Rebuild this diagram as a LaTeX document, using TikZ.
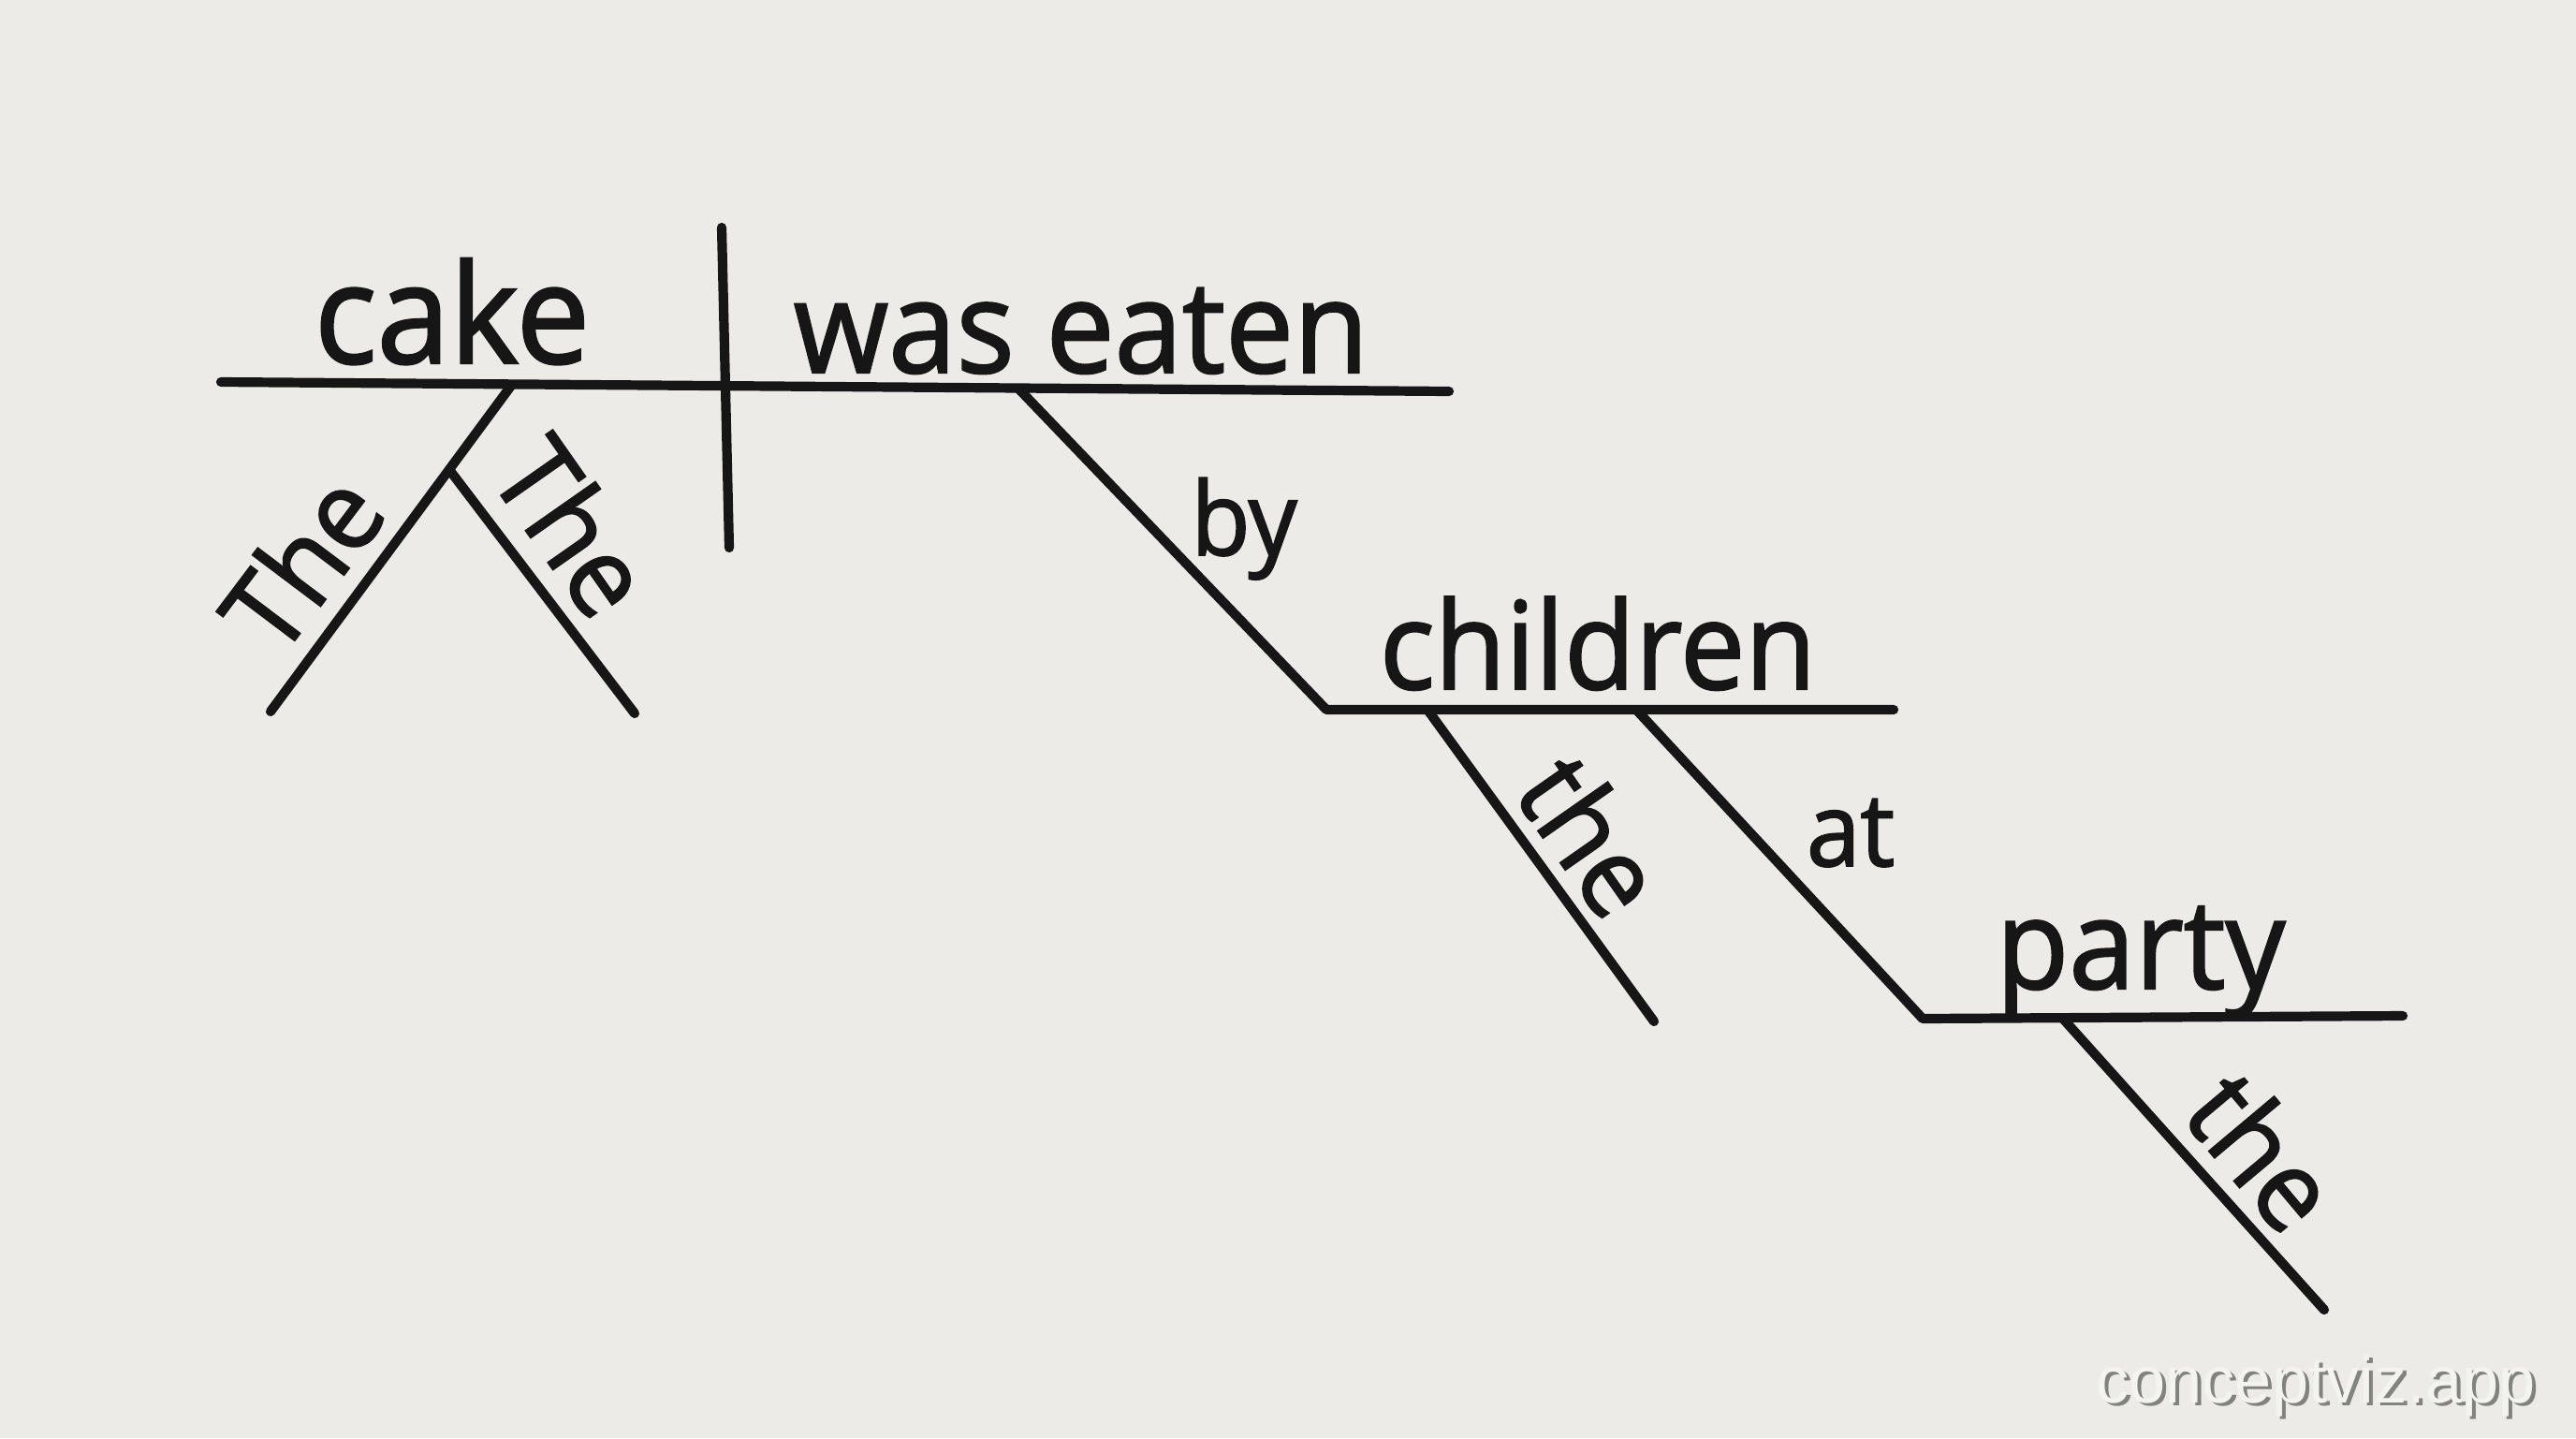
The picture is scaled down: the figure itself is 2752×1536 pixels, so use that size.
\documentclass[tikz,border=0pt]{standalone}
\usepackage{fontspec}
\setmainfont[FakeStretch=0.95,FakeBold=1.6]{Open Sans}
\newfontfamily\wmfont{Liberation Sans}
\definecolor{paper}{RGB}{236,235,231}
\definecolor{ink}{RGB}{22,22,22}
\definecolor{wmshadow}{RGB}{130,130,128}
\definecolor{wmface}{RGB}{243,243,240}
\tikzset{
  rule/.style={draw=ink, line width=2.9pt, line cap=round, line join=round},
  word/.style={inner sep=0pt, text=ink, anchor=base},
  slant/.style={inner sep=0pt, text=ink, anchor=center},
}
\newcommand{\fs}[1]{\fontsize{#1}{#1}\selectfont}
\begin{document}
\begin{tikzpicture}[x=0.01cm, y=-0.01cm]
\fill[paper] (0,0) rectangle (2752,1536);
\useasboundingbox (0,0) rectangle (2752,1536);

% coordinates
\coordinate (mL) at (236,408);
\coordinate (mR) at (1548,418);
\coordinate (dT) at (771,243);
\coordinate (dB) at (779,585);
\coordinate (cA) at (546,412);
\coordinate (cB) at (289,760);
\coordinate (tA) at (481,503);
\coordinate (tB) at (678,762);
\coordinate (vA) at (1088,415);
\coordinate (vC) at (1417,758);
\coordinate (chR) at (2023,758);
\coordinate (t1A) at (1525,758);
\coordinate (t1B) at (1767,1091);
\coordinate (aA) at (1748,758);
\coordinate (aC) at (2054,1088);
\coordinate (pR) at (2567,1085);
\coordinate (t2A) at (2203,1087);
\coordinate (t2B) at (2483,1399);

% lines
\draw[rule] (mL) -- (mR);
\draw[rule] (dT) -- (dB);
\draw[rule] (cA) -- (cB);
\draw[rule] (tA) -- (tB);
\draw[rule] (vA) -- (vC) -- (chR);
\draw[rule] (t1A) -- (t1B);
\draw[rule] (aA) -- (aC) -- (pR);
\draw[rule] (t2A) -- (t2B);

% words
\node[word, font=\fs{42}] (cake) at (483,388) {cake};
\node[word, font=\fs{39}] (verb) at (1155,398) {was eaten};
\node[word, font=\fs{31}] (by) at (1329,593) {by};
\node[word, font=\fs{37}] (children) at (1707,736) {children};
\node[word, font=\fs{31}] (at) at (1977,925) {at};
\node[word, font=\fs{38}] (party) at (2287,1056) {party};
\node[slant, font=\fs{34}, rotate=53] (the1) at (322,600) {The};
\node[slant, font=\fs{34}, rotate=-55] (the2) at (613,562) {The};
\node[slant, font=\fs{34}, rotate=-55] (the3) at (1701,892) {the};
\node[slant, font=\fs{34}, rotate=-50] (the4) at (2418,1229) {the};

% watermark
\node[anchor=base, inner sep=0pt, text=wmshadow, font=\wmfont\fs{20}] (wmS) at (2478,1501) {conceptviz.app};
\node[anchor=base, inner sep=0pt, text=wmface, font=\wmfont\fs{20}] (wm) at (2474,1498) {conceptviz.app};
\end{tikzpicture}
\end{document}
